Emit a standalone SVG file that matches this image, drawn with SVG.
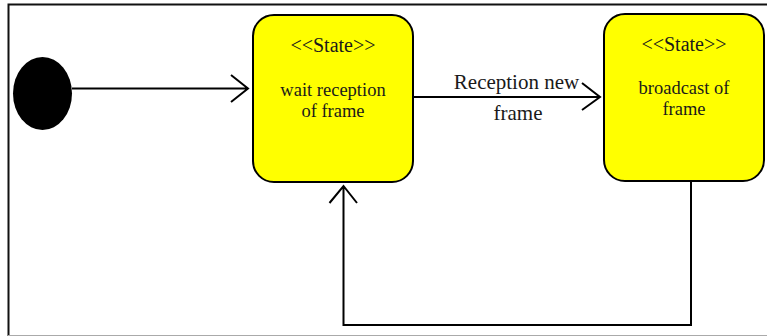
<svg xmlns="http://www.w3.org/2000/svg" width="767" height="336" viewBox="0 0 767 336">
<style>
.state{fill:#ffff00;stroke:#000;stroke-width:2}
.conn{fill:none;stroke:#000;stroke-width:2}
.t{font-family:"Liberation Serif","Times New Roman",serif;fill:#1a1a1a;text-anchor:middle}
.st{font-size:20px}
.body{font-size:18.5px}
.lbl{font-size:21px}
</style>
<rect x="0" y="0" width="767" height="336" fill="#fff"/>
<g id="frame">
<path d="M8.5,336 V4.5 H767" fill="none" stroke="#111" stroke-width="2"/>
<line x1="8" y1="335.5" x2="767" y2="335.5" stroke="#aaa" stroke-width="1"/>
</g>
<g id="initial">
<ellipse cx="42.5" cy="93.5" rx="29.5" ry="36.5" fill="#000"/>
</g>
<g id="wait">
<rect class="state" x="253" y="15" width="160" height="167" rx="21" ry="21"/>
<text class="t st" x="333" y="52">&lt;&lt;State&gt;&gt;</text>
<text class="t body" x="333" y="96">wait reception</text>
<text class="t body" x="333" y="117">of frame</text>
</g>
<g id="broadcast">
<rect class="state" x="604" y="14" width="160" height="167" rx="21" ry="21"/>
<text class="t st" x="684" y="51">&lt;&lt;State&gt;&gt;</text>
<text class="t body" x="684" y="94">broadcast of</text>
<text class="t body" x="684" y="115">frame</text>
</g>
<g id="connectors">
<path class="conn" d="M72,88.5 H248 M231,75 L248,88.5 L231,102"/>
<path class="conn" d="M413,97 H600 M582,83 L600,97 L582,110"/>
<path class="conn" d="M691,181 V325 H343.5 V186 M329.5,203 L343.5,186 L357,203"/>
<text class="t lbl" x="516.5" y="89">Reception new</text>
<text class="t lbl" x="518" y="120">frame</text>
</g>
</svg>
